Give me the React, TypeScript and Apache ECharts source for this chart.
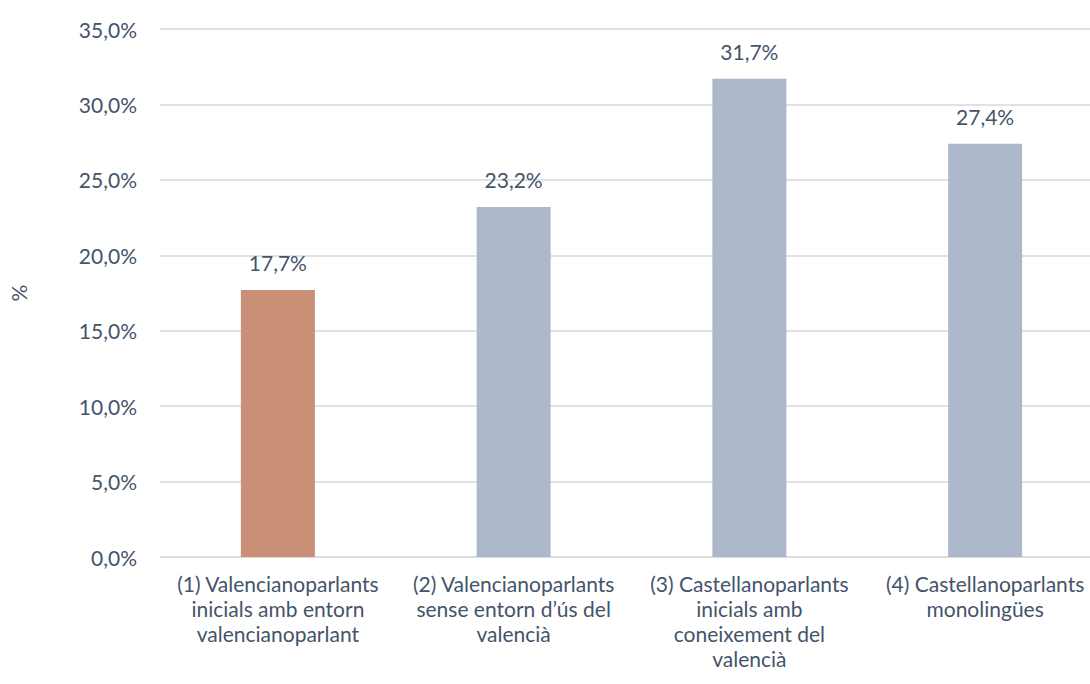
import React, { useEffect, useRef } from "react";
import * as echarts from "echarts";

const categories = [
  "(1) Valencianoparlants\ninicials amb entorn\nvalencianoparlant",
  "(2) Valencianoparlants\nsense entorn d’ús del\nvalencià",
  "(3) Castellanoparlants\ninicials amb\nconeixement del\nvalencià",
  "(4) Castellanoparlants\nmonolingües",
];
const values = [17.7, 23.2, 31.7, 27.4];
const barColors = ["#C98F77", "#ADB9CA", "#ADB9CA", "#ADB9CA"];

const fmt = (v: number) => v.toFixed(1).replace(".", ",") + "%";

export default function App() {
  const ref = useRef<HTMLDivElement>(null);
  useEffect(() => {
    const chart = echarts.init(ref.current!, undefined, { renderer: "svg" });
    const font = "Lato, 'Open Sans', sans-serif";
    const fs = 21;
    chart.setOption({
      animation: false,
      textStyle: { fontFamily: font },
      grid: { left: 155, right: 17, top: 29, bottom: 127 },
      xAxis: {
        type: "category",
        data: categories,
        axisTick: { show: false },
        axisLine: { lineStyle: { color: "#D9D9D9", width: 1.5 } },
        axisLabel: {
          color: "#44546A",
          fontSize: fs,
          fontFamily: font,
          lineHeight: 25,
          margin: 14,
          interval: 0,
        },
      },
      yAxis: {
        type: "value",
        min: 0,
        max: 35,
        interval: 5,
        name: "%",
        nameLocation: "middle",
        nameGap: 131,
        nameRotate: 90,
        nameTextStyle: { color: "#44546A", fontSize: fs, fontFamily: font },
        axisLabel: {
          color: "#44546A",
          fontSize: fs,
          fontFamily: font,
          margin: 23,
          formatter: (v: number) => fmt(v),
        },
        splitLine: { lineStyle: { color: "#D9D9D9", width: 1.5 } },
        axisLine: { show: false },
        axisTick: { show: false },
      },
      series: [
        {
          type: "bar",
          barWidth: 74,
          data: values.map((v, i) => ({ value: v, itemStyle: { color: barColors[i] } })),
          label: {
            show: true,
            position: "top",
            distance: 17,
            color: "#44546A",
            fontSize: fs,
            fontFamily: font,
            formatter: (p: any) => fmt(p.value),
          },
        },
      ],
    });
    return () => chart.dispose();
  }, []);
  return (
    <div style={{ position: "fixed", left: 0, top: 0, width: 1090, height: 684, overflow: "hidden", background: "#fff" }}>
      <div ref={ref} style={{ width: 1120, height: 684 }} />
    </div>
  );
}
